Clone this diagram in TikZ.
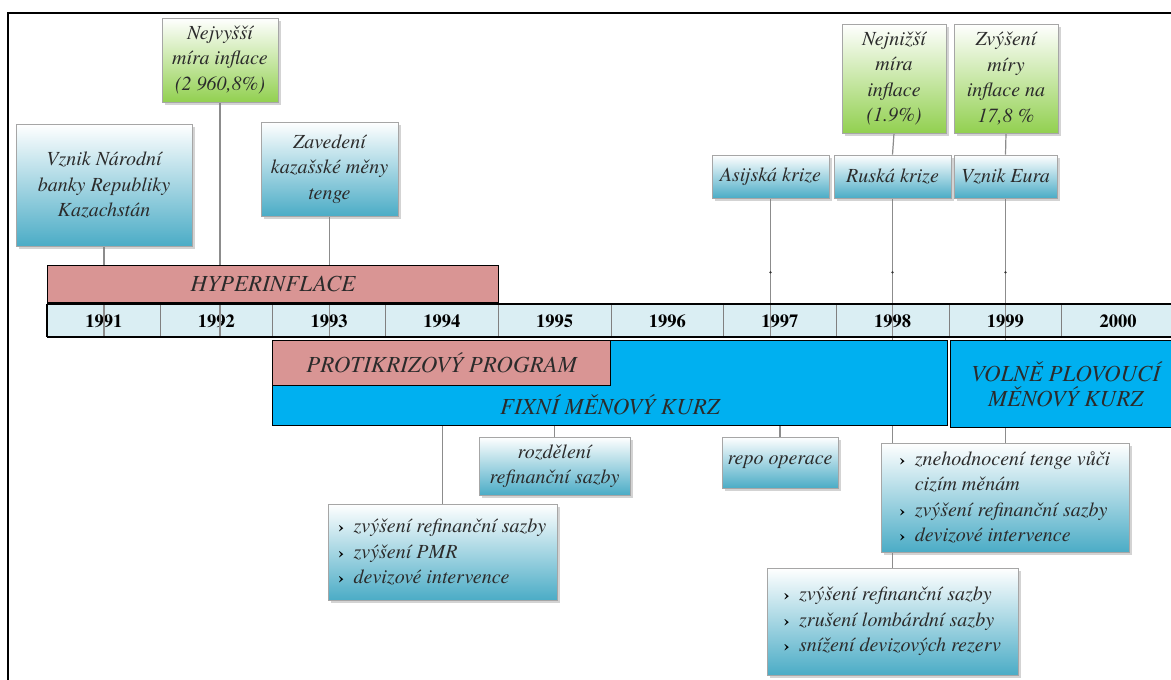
\documentclass[tikz,border=0pt]{standalone}
\usepackage{fontspec}
\setmainfont{texgyretermes}[Extension=.otf, UprightFont=*-regular, ItalicFont=*-italic, BoldFont=*-bold, BoldItalicFont=*-bolditalic]
\usetikzlibrary{shadows}
\definecolor{boxblue}{HTML}{4BACC6}
\definecolor{boxgreen}{HTML}{92D050}
\definecolor{barpink}{HTML}{D99594}
\definecolor{barblue}{HTML}{00B0F0}
\definecolor{cellblue}{HTML}{DAEEF3}
\definecolor{txt}{HTML}{2B2B2B}
\definecolor{conncol}{HTML}{8C8C8C}
\pgfdeclarelayer{cells}
\pgfdeclarelayer{lines}
\pgfsetlayers{cells,lines,main}
\newcommand\blt{\makebox[15pt][l]{\fontsize{17}{17}\selectfont\upshape\bfseries\color{black}›}}
\newcommand\bind{\hspace*{15pt}}
\begin{document}
\begin{tikzpicture}[x=1pt,y=-1pt,
  infobox/.style={draw=gray!70, line width=0.8pt, top color=white, bottom color=boxblue,
    drop shadow={shadow xshift=3pt, shadow yshift=-3pt, opacity=0.35},
    text=txt, font=\fontsize{20}{25.5}\selectfont\itshape, align=center, inner sep=0pt},
  greenbox/.style={infobox, bottom color=boxgreen},
  listbox/.style={infobox, align=left},
  bar/.style={draw=black, line width=1.2pt, text=txt, font=\fontsize{23}{25}\selectfont\itshape,
    inner sep=0pt, anchor=north west, align=center},
  bartext/.style={text=txt, font=\fontsize{23}{25}\selectfont\itshape, inner sep=0pt, align=center},
  yearcell/.style={draw=gray, line width=0.8pt, fill=cellblue, minimum width=112.7pt, minimum height=33pt,
    font=\fontsize{18.5}{18.5}\selectfont\bfseries, inner sep=0pt, anchor=north west},
  connector/.style={draw=conncol, line width=1.2pt},
]
\useasboundingbox (0,0) rectangle (1171,680);
% frame
\draw[line width=2.5pt] (8,700) -- (8,13) -- (1190,13);

% timeline cells
\begin{pgfonlayer}{cells}
\foreach \yr [count=\i from 0] in {1991,1992,...,2000}{
  \pgfmathsetmacro\xx{47+112.7*\i}
  \node[yearcell] (y\yr) at (\xx,304) {\yr};
}
\end{pgfonlayer}
\coordinate (tlb) at (0,337);
\draw[line width=2.5pt] (47,304) -- (1180,304);
\draw[line width=2.5pt] (47,337) -- (1180,337);
\draw[line width=1.5pt] (47,304) -- (47,337);

% bars
\node[bar, fill=barpink, minimum width=451pt, minimum height=37pt] (hyper) at (47,265) {HYPERINFLACE};
\node[bar, fill=barblue, minimum width=675pt, minimum height=85pt] (fixni) at (272,340) {};
\node[bartext] (fixnitxt) at (610,405) {FIXNÍ MĚNOVÝ KURZ};
\node[bar, fill=barpink, minimum width=338pt, minimum height=45pt] (protik) at (272,340) {PROTIKRIZOVÝ PROGRAM};
\node[bar, fill=barblue, minimum width=230pt, minimum height=87pt] (volne) at (950,340) {VOLNĚ PLOVOUCÍ\\MĚNOVÝ KURZ};

% top boxes
\node[infobox, minimum width=176pt, minimum height=122pt] (vznik) at (104,185) {Vznik Národní\\banky Republiky\\Kazachstán};
\node[greenbox, minimum width=116pt, minimum height=84pt] (nejvyssi) at (220,60) {Nejvyšší\\míra inflace\\(2 960,8\%)};
\node[infobox, minimum width=137pt, minimum height=94pt] (zavedeni) at (329.5,169) {Zavedení\\kazašské měny\\tenge};
\node[infobox, minimum width=117pt, minimum height=43pt] (asijska) at (770.5,176.5) {Asijská krize};
\node[infobox, minimum width=117pt, minimum height=43pt] (ruska) at (892.5,176.5) {Ruská krize};
\node[infobox, minimum width=103pt, minimum height=43pt] (eura) at (1005.5,176.5) {Vznik Eura};
\node[greenbox, minimum width=104pt, minimum height=109pt] (nejnizsi) at (894,78.5) {Nejnižší\\míra\\inflace\\(1.9\%)};
\node[greenbox, minimum width=104pt, minimum height=109pt] (zvyseni) at (1006,78.5) {Zvýšení\\míry\\inflace na\\17,8 \%};

% bottom boxes
\node[infobox, minimum width=151pt, minimum height=58pt] (rozdeleni) at (554.5,466) {rozdělení\\refinanční sazby};
\node[listbox, minimum width=229pt, minimum height=96pt] (pmr) at (442.5,552) {\blt zvýšení refinanční sazby\\\blt zvýšení PMR\\\blt devizové intervence};
\node[infobox, minimum width=116pt, minimum height=51pt] (repo) at (780,462.5) {repo operace};
\node[listbox, minimum width=248pt, minimum height=109pt] (znehod) at (1005,497.5) {\blt znehodnocení tenge vůči\\\bind cizím měnám\\\blt zvýšení refinanční sazby\\\blt devizové intervence};
\node[listbox, minimum width=251pt, minimum height=107pt] (final) at (892.5,621.5) {\blt zvýšení refinanční sazby\\\blt zrušení lombárdní sazby\\\blt snížení devizových rezerv};

% connectors
\begin{pgfonlayer}{lines}
\draw[connector] (vznik.south) -- (vznik.south |- tlb);
\draw[connector] (nejvyssi.south) -- (nejvyssi.south |- tlb);
\draw[connector] (zavedeni.south) -- (zavedeni.south |- tlb);
\draw[connector] (asijska.south) -- (asijska.south |- tlb);
\draw[connector] (nejnizsi.south) -- (ruska.north);
\draw[connector] (zvyseni.south) -- (eura.north);
\draw[connector] (ruska.south) -- (ruska.south |- final.north);
\draw[connector] (eura.south) -- (eura.south |- znehod.north);
\draw[connector] (pmr.north) -- (pmr.north |- fixni.south);
\draw[connector] (rozdeleni.north) -- (rozdeleni.north |- fixni.south);
\draw[connector] (repo.north) -- (repo.north |- fixni.south);
\end{pgfonlayer}
\foreach \c in {asijska,ruska,eura}{
  \fill[black!80] ([yshift=-74pt]\c.south) circle (1.3pt);
}
\end{tikzpicture}
\end{document}
